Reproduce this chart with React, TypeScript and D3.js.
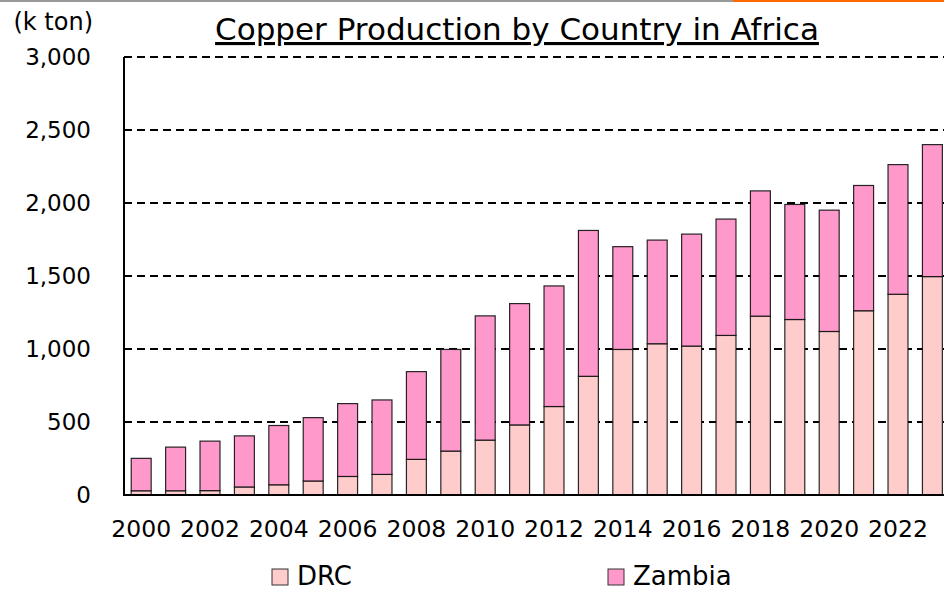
import * as d3 from "d3";
import { useEffect, useRef } from "react";

const years = d3.range(2000, 2024).map(String);
// DRC output (k ton)
const drc = [29, 29, 30, 55, 70, 96, 127, 141, 244, 301, 376, 480, 606, 813, 997, 1036, 1020, 1093, 1225, 1202, 1120, 1262, 1375, 1496];
// Zambia output (k ton)
const zambia = [222, 299, 339, 350, 406, 434, 499, 510, 601, 696, 851, 831, 826, 999, 704, 710, 767, 797, 858, 788, 831, 858, 888, 904];
const yTicks = [0, 500, 1000, 1500, 2000, 2500, 3000];
const seriesNames = ["DRC", "Zambia"];
const seriesColors = ["#ffcccc", "#ff99cc"];

const W = 944;
const H = 590;

const App = () => {
  const ref = useRef(null);

  useEffect(() => {
    const svg = d3.select(ref.current);
    svg.selectAll("*").remove();

    const left = 124;
    const top = 57;
    const bottom = 495;
    const step = 34.4;
    const right = left + step * years.length;
    const font = "DejaVu Sans, Verdana, sans-serif";

    const x = d3.scaleBand()
      .domain(years)
      .range([left, right])
      .paddingInner(0.42)
      .paddingOuter(0.21);
    const y = d3.scaleLinear().domain([0, 3000]).range([bottom, top]);

    // frame lines at the very top of the screenshot
    svg.append("line").attr("x1", 0).attr("x2", 733).attr("y1", 1).attr("y2", 1)
      .attr("stroke", "#999").attr("stroke-width", 2);
    svg.append("line").attr("x1", 733).attr("x2", W).attr("y1", 1).attr("y2", 1)
      .attr("stroke", "#ff6a00").attr("stroke-width", 2);

    // gridlines
    svg.append("g")
      .selectAll("line")
      .data(yTicks.filter(d => d > 0))
      .enter()
      .append("line")
      .attr("x1", left)
      .attr("x2", right)
      .attr("y1", d => y(d))
      .attr("y2", d => y(d))
      .attr("stroke", "#000")
      .attr("stroke-width", 2)
      .attr("stroke-dasharray", "8,5");

    // stacked bars
    const table = years.map((yr, i) => ({ year: yr, DRC: drc[i], Zambia: zambia[i] }));
    const stacked = d3.stack().keys(seriesNames)(table);

    svg.append("g")
      .selectAll("g")
      .data(stacked)
      .enter()
      .append("g")
      .attr("fill", (d, i) => seriesColors[i])
      .selectAll("rect")
      .data(d => d)
      .enter()
      .append("rect")
      .attr("x", d => x(d.data.year))
      .attr("y", d => y(d[1]))
      .attr("width", x.bandwidth())
      .attr("height", d => y(d[0]) - y(d[1]))
      .attr("stroke", "#111")
      .attr("stroke-opacity", 0.9)
      .attr("stroke-width", 1.2);

    // axes
    svg.append("line").attr("x1", left).attr("x2", left).attr("y1", top).attr("y2", bottom)
      .attr("stroke", "#000").attr("stroke-width", 2);
    svg.append("line").attr("x1", left - 1).attr("x2", right).attr("y1", bottom).attr("y2", bottom)
      .attr("stroke", "#000").attr("stroke-width", 2);

    // y tick labels
    svg.append("g")
      .selectAll("text")
      .data(yTicks)
      .enter()
      .append("text")
      .attr("x", 91)
      .attr("y", d => y(d))
      .attr("dy", "0.36em")
      .attr("text-anchor", "end")
      .style("font-family", font)
      .style("font-size", "23px")
      .text(d => d3.format(",")(d));

    // x tick labels, every other year
    svg.append("g")
      .selectAll("text")
      .data(years.filter((d, i) => i % 2 === 0))
      .enter()
      .append("text")
      .attr("x", d => x(d) + x.bandwidth() / 2)
      .attr("y", 537)
      .attr("text-anchor", "middle")
      .style("font-family", font)
      .style("font-size", "23.5px")
      .text(d => d);

    // unit label
    svg.append("text")
      .attr("x", 93)
      .attr("y", 30)
      .attr("text-anchor", "end")
      .style("font-family", font)
      .style("font-size", "24px")
      .text("(k ton)");

    // title
    svg.append("text")
      .attr("x", 517)
      .attr("y", 40)
      .attr("text-anchor", "middle")
      .style("font-family", font)
      .style("font-size", "31px")
      .style("text-decoration", "underline")
      .text("Copper Production by Country in Africa");

    // legend
    const legendX = [272, 608];
    const legend = svg.append("g")
      .selectAll("g")
      .data(seriesNames)
      .enter()
      .append("g")
      .attr("transform", (d, i) => `translate(${legendX[i]}, 569)`);
    legend.append("rect")
      .attr("width", 16)
      .attr("height", 16)
      .attr("fill", (d, i) => seriesColors[i])
      .attr("stroke", "#333");
    legend.append("text")
      .attr("x", 25)
      .attr("y", 16)
      .style("font-family", font)
      .style("font-size", "26px")
      .text(d => d);
  }, []);

  return (
    <svg
      ref={ref}
      width={W}
      height={H}
      style={{ position: "absolute", left: 0, top: 0, background: "#fff" }}
    ></svg>
  );
};

export default App;
